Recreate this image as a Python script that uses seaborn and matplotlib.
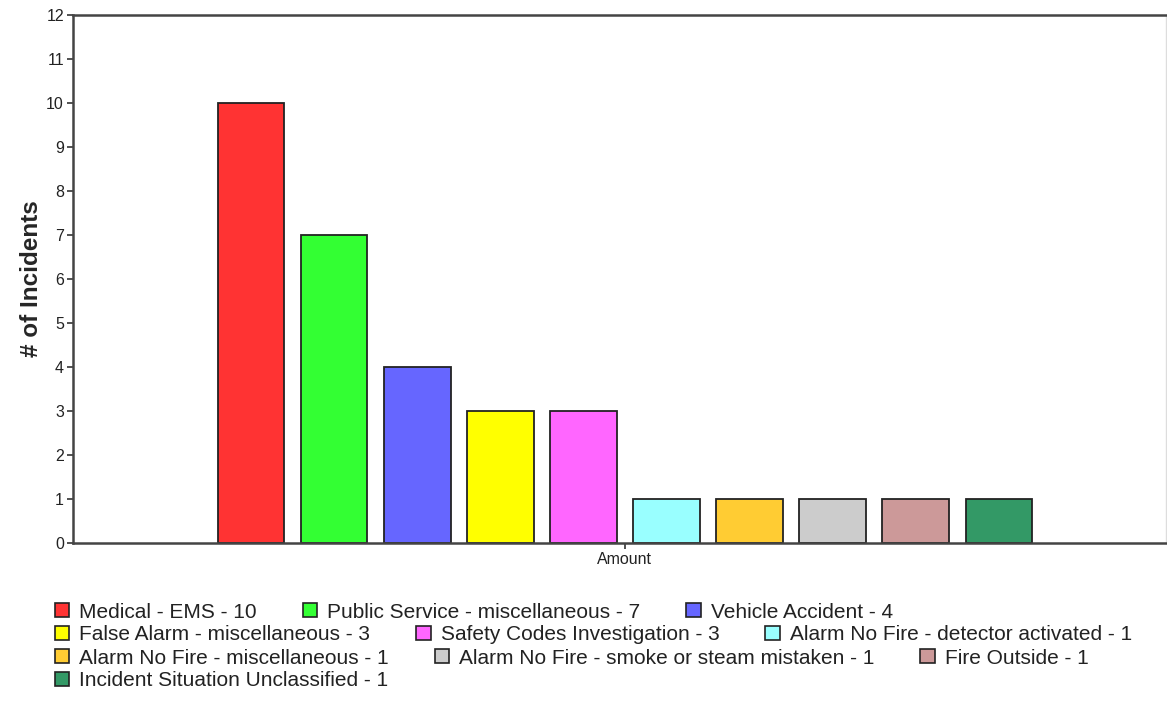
import matplotlib
matplotlib.use("Agg")
import matplotlib.pyplot as plt
from matplotlib.patches import Patch
import seaborn as sns
import pandas as pd

categories = [
    "Medical - EMS",
    "Public Service - miscellaneous",
    "Vehicle Accident",
    "False Alarm - miscellaneous",
    "Safety Codes Investigation",
    "Alarm No Fire - detector activated",
    "Alarm No Fire - miscellaneous",
    "Alarm No Fire - smoke or steam mistaken",
    "Fire Outside",
    "Incident Situation Unclassified",
]
values = [10, 7, 4, 3, 3, 1, 1, 1, 1, 1]
colors = ["#FF3333", "#33FF33", "#6666FF", "#FFFF00", "#FF66FF",
          "#99FFFF", "#FFCC33", "#CCCCCC", "#CC9999", "#339966"]
x_label = "Amount"
y_label = "# of Incidents"
y_ticks = list(range(0, 13))

labels = [f"{c} - {v}" for c, v in zip(categories, values)]
df = pd.DataFrame({"group": [x_label] * len(values), "count": values, "label": labels})

sns.set_style("white")
plt.rcParams["font.family"] = ["Liberation Sans", "DejaVu Sans"]

fig = plt.figure(figsize=(11.67, 7.04), dpi=100)
ax = fig.add_axes([73 / 1167, 1 - 543 / 704, (1166 - 73) / 1167, (543 - 15) / 704])

palette = dict(zip(labels, colors))
sns.barplot(data=df, x="group", y="count", hue="label", hue_order=labels,
            palette=palette, width=0.76, gap=0.2, edgecolor="#222222",
            linewidth=1.3, saturation=1, ax=ax, legend=False)

ax.set_xlim(-0.505, 0.495)
ax.set_ylim(0, 12)
ax.set_yticks(y_ticks)
ax.set_xlabel("")
ax.set_ylabel(y_label, fontsize=17.5, fontweight="bold", labelpad=2)
ax.tick_params(axis="both", direction="out", length=4, width=1.2,
               color="#333333", labelsize=11.5, labelcolor="#222222", pad=2.5,
               left=True, bottom=True)
for side in ["left", "top", "bottom"]:
    ax.spines[side].set_color("#444444")
    ax.spines[side].set_linewidth(1.8)
ax.spines["right"].set_color("#DDDDDD")
ax.spines["right"].set_linewidth(1.0)

handles = [Patch(facecolor=c, edgecolor="#222222", linewidth=1.2) for c in colors]
rows = [[0, 1, 2], [3, 4, 5], [6, 7, 8], [9]]
row_y = [612, 635, 658, 681]
for idx, yy in zip(rows, row_y):
    leg = fig.legend([handles[i] for i in idx], [labels[i] for i in idx],
                     ncol=len(idx), loc="center left",
                     bbox_to_anchor=(55 / 1167, 1 - yy / 704),
                     frameon=False, fontsize=15.0, handlelength=0.69,
                     handleheight=0.69, handletextpad=0.48, columnspacing=2.2,
                     borderpad=0, borderaxespad=0)
    for t in leg.get_texts():
        t.set_color("#222222")

fig.savefig("out.png", dpi=100)
